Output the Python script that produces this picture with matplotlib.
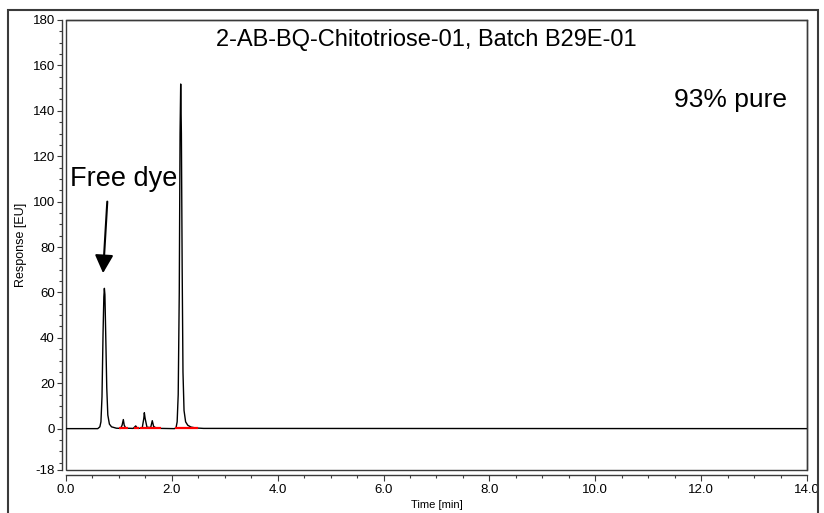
import matplotlib.pyplot as plt
from matplotlib.patches import Rectangle
from matplotlib.ticker import MultipleLocator, FixedLocator
import numpy as np

plt.rcParams['font.family'] = ['Liberation Sans', 'DejaVu Sans']
plt.rcParams['axes.unicode_minus'] = False

# trace (time [min], response [EU])
time = [0.0, 0.60, 0.64, 0.66, 0.68, 0.70, 0.715, 0.725, 0.735, 0.75, 0.77, 0.79, 0.82, 0.86, 0.95,
        1.03, 1.06, 1.083, 1.10, 1.13, 1.27, 1.30, 1.317, 1.335, 1.36,
        1.44, 1.47, 1.48, 1.495, 1.53, 1.60, 1.63, 1.655, 1.70, 1.80,
        2.05, 2.08, 2.10, 2.12, 2.14, 2.155, 2.167, 2.18, 2.195, 2.21, 2.23, 2.26, 2.30, 2.36, 2.45, 2.6, 14.0]
response = [0.0, 0.0, 0.8, 3.0, 14.0, 42.0, 58.0, 61.8, 59.0, 42.0, 18.0, 6.0, 2.0, 0.8, 0.2,
            0.1, 1.5, 4.0, 1.5, 0.2, 0.1, 0.8, 1.2, 0.6, 0.1,
            0.3, 4.5, 7.0, 4.5, 0.6, 0.5, 3.5, 1.0, 0.3, 0.1,
            0.0, 0.5, 3.0, 15.0, 60.0, 130.0, 151.8, 130.0, 70.0, 25.0, 8.0, 3.0, 1.5, 0.7, 0.3, 0.1, 0.0]

# integration baselines (red)
base_start = [1.01, 1.28, 1.40, 2.05]
base_end = [1.18, 1.38, 1.80, 2.50]

title = "2-AB-BQ-Chitotriose-01, Batch B29E-01"
purity = "93% pure"

fig = plt.figure(figsize=(8.24, 5.13), dpi=100)
ax = fig.add_axes([66 / 824, 1 - 469.5 / 513, 741 / 824, 449.5 / 513])

ax.plot(time, response, color='black', lw=1.0)
for s, e in zip(base_start, base_end):
    ax.plot([s, e], [0.1, 0.1], color='#ff0000', lw=1.6, solid_capstyle='butt')

ax.set_xlim(0, 14)
ax.set_ylim(-18, 180)

frame_col = '#3a3a3a'
for sp in ax.spines.values():
    sp.set_color(frame_col)
    sp.set_linewidth(1.0)
ax.spines['left'].set_position(('outward', 3))
ax.spines['bottom'].set_position(('outward', 3.6))
ax.add_patch(Rectangle((0, 0), 1, 1, transform=ax.transAxes, fill=False,
                       ec=frame_col, lw=1.0, clip_on=False))

ax.xaxis.set_major_locator(MultipleLocator(2))
ax.xaxis.set_minor_locator(MultipleLocator(0.5))
ax.set_xticklabels([f"{v:.1f}" for v in ax.get_xticks()])
ax.yaxis.set_major_locator(FixedLocator([-18] + list(range(0, 181, 20))))
ax.yaxis.set_minor_locator(FixedLocator(list(range(-15, 180, 5))))
ax.tick_params(axis='both', which='major', labelsize=9.5, color=frame_col, width=0.8, direction='out')
ax.tick_params(axis='y', which='major', length=3.5, pad=1.5)
ax.tick_params(axis='y', which='minor', length=2, color=frame_col, width=0.8)
ax.tick_params(axis='x', which='major', length=4, pad=3)
ax.tick_params(axis='x', which='minor', length=2.5, color=frame_col, width=0.8)

ax.set_xlabel("Time [min]", fontsize=8, labelpad=3)
ax.set_ylabel("Response [EU]", fontsize=9, labelpad=4)

ax.text(6.81, 168.6, title, fontsize=17, ha='center', va='baseline')
ax.text(13.62, 141.5, purity, fontsize=19, ha='right', va='baseline')
ax.text(0.08, 107, "Free dye", fontsize=19.5, ha='left', va='baseline')
ax.annotate("", xy=(0.70, 68.5), xytext=(0.78, 100),
            arrowprops=dict(arrowstyle='-|>,head_length=0.55,head_width=0.28',
                            mutation_scale=20, lw=1.5, color='black', shrinkA=0, shrinkB=0))

# outer frame around the whole figure
fig.add_artist(Rectangle((8 / 824, -0.02), 810 / 824, 1.02 - 10 / 513, transform=fig.transFigure,
                         fill=False, ec=frame_col, lw=1.5))

fig.savefig("out.png", dpi=100)
